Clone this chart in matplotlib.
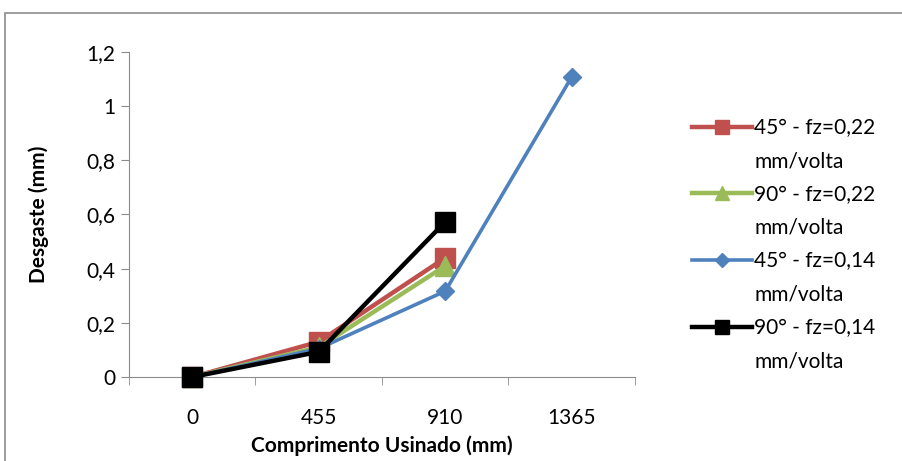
import matplotlib.pyplot as plt
from matplotlib.lines import Line2D
from matplotlib.patches import Rectangle

plt.rcParams["font.family"] = ["Lato", "DejaVu Sans"]

categories = ["0", "455", "910", "1365"]
red_45_022 = [0.0, 0.13, 0.44]
green_90_022 = [0.0, 0.11, 0.41]
blue_45_014 = [0.0, 0.105, 0.317, 1.108]
black_90_014 = [0.0, 0.093, 0.573]
labels = [
    "45° - fz=0,22",
    "90° - fz=0,22",
    "45° - fz=0,14",
    "90° - fz=0,14",
]
unit = "mm/volta"
yticks = [0, 0.2, 0.4, 0.6, 0.8, 1.0, 1.2]
ytick_labels = ["0", "0,2", "0,4", "0,6", "0,8", "1", "1,2"]

fig = plt.figure(figsize=(9.03, 4.61), dpi=100)
fig.patches.append(Rectangle((5 / 903, -0.1), 1.2, 1 - 13 / 461 + 0.1,
                             transform=fig.transFigure, fill=False,
                             edgecolor="#8c8c8c", linewidth=1.2))
ax = fig.add_axes([129 / 903, 1 - 377 / 461, (635 - 129) / 903, (377 - 52) / 461])

series = [
    (red_45_022, "#C0504D", "s", 14, 3.2, 10),
    (green_90_022, "#9BBB59", "^", 14, 3.2, 10),
    (blue_45_014, "#4F81BD", "D", 9, 2.6, 7),
    (black_90_014, "#000000", "s", 14, 3.2, 10),
]
handles = []
legend_labels = []
for (vals, color, marker, ms, lw, lms), label in zip(series, labels):
    ax.plot(range(len(vals)), vals, color=color, marker=marker, markersize=ms,
            linewidth=lw, clip_on=False, zorder=3)
    handles.append(Line2D([], [], color=color, marker=marker, markersize=lms, linewidth=lw))
    legend_labels.append(label)
    handles.append(Line2D([], [], linestyle="none"))
    legend_labels.append(unit)

ax.set_xlim(-0.5, len(categories) - 0.5)
ax.set_ylim(0, 1.2)
ax.set_yticks(yticks)
ax.set_yticklabels(ytick_labels, fontsize=15)
ax.set_xticks(range(len(categories)))
ax.set_xticklabels(categories, fontsize=15)
ax.set_xticks([i - 0.5 for i in range(len(categories) + 1)], minor=True)
ax.tick_params(axis="x", which="major", length=0, pad=22)
ax.tick_params(axis="x", which="minor", length=6, color="#8c8c8c")
ax.tick_params(axis="y", length=6, color="#8c8c8c", pad=4)

for side in ("top", "right"):
    ax.spines[side].set_visible(False)
ax.spines["left"].set_color("#8c8c8c")
ax.spines["bottom"].set_color("#8c8c8c")

ax.set_xlabel("Comprimento Usinado (mm)", fontsize=15, fontweight="bold", labelpad=6)
ax.set_ylabel("Desgaste (mm)", fontsize=15, fontweight="bold", labelpad=27)

fig.legend(handles, legend_labels, loc="upper left",
           bbox_to_anchor=(692 / 903, 1 - 118 / 461), bbox_transform=fig.transFigure,
           frameon=False, fontsize=15, handlelength=2.9, handletextpad=0.1,
           labelspacing=0.64, borderpad=0, borderaxespad=0)

fig.savefig("out.png", dpi=100)
